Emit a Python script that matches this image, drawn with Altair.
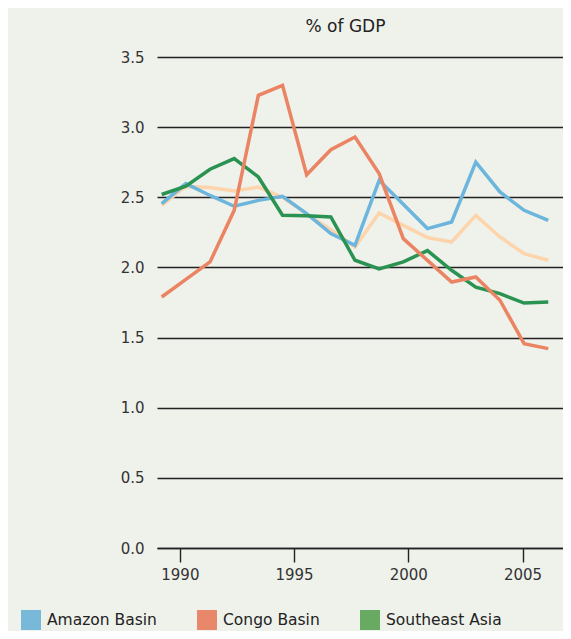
import altair as alt
import pandas as pd

# ---- data ----
years = list(range(1990, 2007))
amazon = [2.455, 2.597, 2.513, 2.436, 2.478, 2.507, 2.384, 2.241, 2.158, 2.621,
          2.45, 2.277, 2.324, 2.751, 2.538, 2.407, 2.336]
congo = [1.789, 1.915, 2.039, 2.407, 3.227, 3.298, 2.661, 2.839, 2.930, 2.669,
         2.205, 2.05, 1.896, 1.932, 1.766, 1.457, 1.421]
seasia = [2.52, 2.58, 2.70, 2.776, 2.645, 2.372, 2.368, 2.36, 2.051, 1.99,
          2.04, 2.12, 1.98, 1.86, 1.813, 1.746, 1.753]
other = [2.443, 2.577, 2.569, 2.545, 2.573, 2.50, 2.38, 2.27, 2.146, 2.388,
         2.30, 2.213, 2.181, 2.371, 2.217, 2.098, 2.051]

series_names = ["Other", "Amazon Basin", "Southeast Asia", "Congo Basin"]
series_values = [other, amazon, seasia, congo]
line_colors = ["#fdd4ab", "#6cb5dc", "#2b9352", "#ea8463"]

legend_names = ["Amazon Basin", "Congo Basin", "Southeast Asia"]
legend_colors = ["#78b9d9", "#e8876a", "#69aa63"]

x_ticks = [1990, 1995, 2000, 2005]
y_ticks = [0.0, 0.5, 1.0, 1.5, 2.0, 2.5, 3.0, 3.5]
y_title = "% of GDP"

rows = []
for name, vals in zip(series_names, series_values):
    for yr, v in zip(years, vals):
        rows.append({"series": name, "year": yr, "value": v})
df = pd.DataFrame(rows)
ticks_df = pd.DataFrame({"tick": x_ticks})

FONT = "DejaVu Sans"

x_data_scale = alt.Scale(domain=[1989.805, 2006.61], nice=False, zero=False)
y_scale = alt.Scale(domain=[0, 3.5], nice=False, zero=True)

y_axis = alt.Axis(values=y_ticks, format=".1f", grid=True, gridColor="#222222",
                  gridWidth=1.4, domain=False, ticks=False, labelPadding=13,
                  labelFontSize=15, labelFont=FONT, labelColor="#333333",
                  title=y_title, titleAngle=0, titleAlign="center",
                  titleBaseline="middle", titleX=188, titleY=-31,
                  titleFontSize=17, titleFont=FONT, titleFontWeight="normal",
                  titleColor="#222222")

axis_layer = alt.Chart(ticks_df).mark_point(opacity=0).encode(
    x=alt.X("tick:Q", scale=alt.Scale(domain=[1989, 2006.77], nice=False, zero=False),
            axis=alt.Axis(values=x_ticks, format="d", orient="bottom", grid=False,
                          domainColor="#222222", domainWidth=1.4, tickColor="#222222",
                          tickWidth=1.4, tickSize=14, labelPadding=5, labelFontSize=15,
                          labelFont=FONT, labelColor="#333333", title=None))
)

line_layers = []
for name, col in zip(series_names, line_colors):
    line_layers.append(
        alt.Chart(df).transform_filter(alt.datum.series == name)
        .mark_line(color=col, strokeWidth=3.5)
        .encode(x=alt.X("year:Q", scale=x_data_scale, axis=None),
                y=alt.Y("value:Q", scale=y_scale, axis=y_axis))
    )

legend_layer = alt.Chart(df).transform_filter(
    alt.FieldOneOfPredicate(field="series", oneOf=legend_names)
).mark_square(opacity=0, filled=True).encode(
    x=alt.X("year:Q", scale=x_data_scale, axis=None),
    y=alt.Y("value:Q", scale=y_scale, axis=y_axis),
    color=alt.Color("series:N", scale=alt.Scale(domain=legend_names, range=legend_colors),
                    legend=alt.Legend(orient="none", legendX=-136, legendY=553,
                                      direction="horizontal", title=None,
                                      symbolType="square", symbolSize=400,
                                      symbolStrokeWidth=0, symbolOpacity=1,
                                      labelFontSize=15.5, labelFont=FONT,
                                      labelColor="#222222", labelOffset=6,
                                      columnPadding=40, padding=0, labelLimit=300))
)

chart = alt.layer(axis_layer, *line_layers, legend_layer).resolve_scale(
    x="independent"
).properties(
    width=406,
    height=491,
    background="#eff1eb",
    padding={"left": 149, "top": 49, "right": 0, "bottom": 83},
    autosize=alt.AutoSizeParams(type="none"),
).configure_view(stroke=None)

chart.save("out.html", embed_options={"renderer": "svg", "actions": False})
